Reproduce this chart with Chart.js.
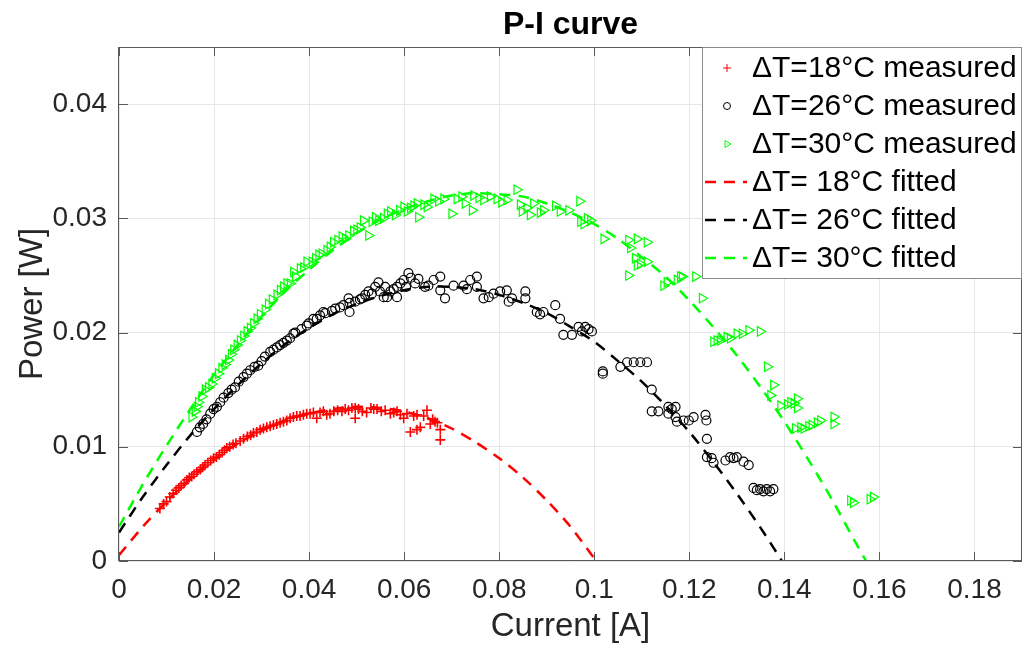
<!DOCTYPE html>
<html>
<head>
<meta charset="utf-8">
<title>P-I curve</title>
<script src="https://cdn.jsdelivr.net/npm/chart.js@4.4.0/dist/chart.umd.min.js"></script>
<style>
  html, body { margin: 0; padding: 0; background: #fff; }
  #wrap { width: 1032px; height: 648px; }
</style>
</head>
<body>
<div id="wrap"><canvas id="piChart" width="1032" height="648"></canvas></div>
<script>
// axis ticks
const xTickValues = [0, 0.02, 0.04, 0.06, 0.08, 0.1, 0.12, 0.14, 0.16, 0.18];
const yTickValues = [0, 0.01, 0.02, 0.03, 0.04];

// measured points [current A, power W]
const measured18 = [
  [0.0086, 0.0046], [0.0094, 0.0050], [0.0100, 0.0052], [0.0107, 0.0056], [0.0114, 0.0059],
  [0.0120, 0.0062], [0.0126, 0.0064], [0.0131, 0.0066], [0.0137, 0.0068], [0.0143, 0.0071],
  [0.0148, 0.0073], [0.0153, 0.0074], [0.0158, 0.0076], [0.0164, 0.0078], [0.0171, 0.0080],
  [0.0176, 0.0082], [0.0181, 0.0084], [0.0187, 0.0086], [0.0193, 0.0088], [0.0199, 0.0090],
  [0.0205, 0.0091], [0.0211, 0.0093], [0.0217, 0.0095], [0.0222, 0.0097], [0.0227, 0.0099],
  [0.0233, 0.0100], [0.0240, 0.0102], [0.0246, 0.0103], [0.0255, 0.0105], [0.0262, 0.0107],
  [0.0270, 0.0109], [0.0277, 0.0110], [0.0283, 0.0112], [0.0290, 0.0113], [0.0297, 0.0115],
  [0.0304, 0.0116], [0.0311, 0.0117], [0.0318, 0.0118], [0.0325, 0.0119], [0.0332, 0.0120],
  [0.0339, 0.0121], [0.0346, 0.0122], [0.0353, 0.0123], [0.0360, 0.0125], [0.0367, 0.0126],
  [0.0374, 0.0127], [0.0381, 0.0127], [0.0388, 0.0128], [0.0395, 0.0129], [0.0402, 0.0129],
  [0.0409, 0.0130], [0.0416, 0.0125], [0.0423, 0.0130], [0.0430, 0.0131], [0.0437, 0.0128],
  [0.0444, 0.0129], [0.0452, 0.0131], [0.0460, 0.0132], [0.0469, 0.0131], [0.0476, 0.0133],
  [0.0483, 0.0132], [0.0490, 0.0134], [0.0497, 0.0134], [0.0497, 0.0125], [0.0504, 0.0133],
  [0.0512, 0.0131], [0.0521, 0.0130], [0.0530, 0.0134], [0.0536, 0.0133], [0.0543, 0.0133],
  [0.0552, 0.0131], [0.0560, 0.0132], [0.0571, 0.0129], [0.0578, 0.0130], [0.0585, 0.0131],
  [0.0592, 0.0128], [0.0599, 0.0125], [0.0606, 0.0129], [0.0613, 0.0113], [0.0620, 0.0127],
  [0.0627, 0.0128], [0.0627, 0.0115], [0.0634, 0.0117], [0.0641, 0.0127], [0.0648, 0.0132],
  [0.0655, 0.0120], [0.0660, 0.0124], [0.0665, 0.0122], [0.0670, 0.0121], [0.0676, 0.0115],
  [0.0676, 0.0106]
];

const measured26 = [
  [0.0164, 0.0113], [0.0170, 0.0117], [0.0177, 0.0120], [0.0184, 0.0124], [0.0192, 0.0129],
  [0.0199, 0.0133], [0.0206, 0.0135], [0.0213, 0.0139], [0.0220, 0.0143], [0.0230, 0.0147],
  [0.0237, 0.0150], [0.0244, 0.0152], [0.0252, 0.0157], [0.0262, 0.0161], [0.0269, 0.0164],
  [0.0276, 0.0167], [0.0285, 0.0170], [0.0293, 0.0171], [0.0300, 0.0175], [0.0307, 0.0179],
  [0.0318, 0.0183], [0.0325, 0.0185], [0.0332, 0.0187], [0.0339, 0.0189], [0.0346, 0.0191],
  [0.0353, 0.0193], [0.0360, 0.0195], [0.0367, 0.0199], [0.0371, 0.0200], [0.0384, 0.0203],
  [0.0395, 0.0206], [0.0399, 0.0208], [0.0409, 0.0212], [0.0416, 0.0212], [0.0423, 0.0215],
  [0.0430, 0.0218], [0.0434, 0.0217], [0.0448, 0.0219], [0.0455, 0.0221], [0.0465, 0.0222],
  [0.0472, 0.0224], [0.0483, 0.0230], [0.0485, 0.0218], [0.0485, 0.0226], [0.0497, 0.0227],
  [0.0507, 0.0229], [0.0511, 0.0230], [0.0518, 0.0233], [0.0525, 0.0236], [0.0532, 0.0234],
  [0.0539, 0.0240], [0.0546, 0.0244], [0.0549, 0.0236], [0.0557, 0.0231], [0.0560, 0.0240],
  [0.0564, 0.0231], [0.0571, 0.0236], [0.0578, 0.0238], [0.0585, 0.0240], [0.0585, 0.0231],
  [0.0592, 0.0243], [0.0599, 0.0246], [0.0604, 0.0240], [0.0609, 0.0252], [0.0614, 0.0248],
  [0.0623, 0.0243], [0.0630, 0.0247], [0.0644, 0.0240], [0.0651, 0.0241], [0.0662, 0.0246],
  [0.0676, 0.0249], [0.0676, 0.0237], [0.0686, 0.0230], [0.0704, 0.0241], [0.0725, 0.0241],
  [0.0732, 0.0238], [0.0739, 0.0246], [0.0753, 0.0249], [0.0753, 0.0240], [0.0767, 0.0230],
  [0.0778, 0.0231], [0.0788, 0.0234], [0.0802, 0.0236], [0.0816, 0.0237], [0.0820, 0.0227],
  [0.0827, 0.0230], [0.0855, 0.0236], [0.0855, 0.0230], [0.0879, 0.0218], [0.0886, 0.0216],
  [0.0893, 0.0218], [0.0918, 0.0224], [0.0928, 0.0212], [0.0935, 0.0198], [0.0953, 0.0198],
  [0.0967, 0.0205], [0.0974, 0.0201], [0.0981, 0.0205], [0.0988, 0.0203], [0.0995, 0.0201],
  [0.1018, 0.0166], [0.1018, 0.0164], [0.1055, 0.0170], [0.1069, 0.0174], [0.1083, 0.0174],
  [0.1097, 0.0174], [0.1111, 0.0174], [0.1121, 0.0150], [0.1121, 0.0131], [0.1135, 0.0131],
  [0.1156, 0.0135], [0.1156, 0.0129], [0.1163, 0.0133], [0.1171, 0.0135], [0.1171, 0.0126],
  [0.1174, 0.0122], [0.1188, 0.0123], [0.1199, 0.0123], [0.1209, 0.0126], [0.1234, 0.0128],
  [0.1236, 0.0123], [0.1237, 0.0107], [0.1237, 0.0091], [0.1247, 0.0090], [0.1251, 0.0086],
  [0.1276, 0.0088], [0.1286, 0.0091], [0.1293, 0.0090], [0.1300, 0.0091], [0.1314, 0.0087],
  [0.1325, 0.0084], [0.1335, 0.0064], [0.1342, 0.0062], [0.1349, 0.0063], [0.1356, 0.0061],
  [0.1363, 0.0063], [0.1370, 0.0061], [0.1377, 0.0063]
];

const measured30 = [
  [0.0153, 0.0126], [0.0160, 0.0131], [0.0164, 0.0135], [0.0167, 0.0139], [0.0174, 0.0144],
  [0.0181, 0.0150], [0.0188, 0.0152], [0.0195, 0.0155], [0.0202, 0.0160], [0.0209, 0.0164],
  [0.0216, 0.0169], [0.0223, 0.0172], [0.0230, 0.0176], [0.0236, 0.0181], [0.0241, 0.0185],
  [0.0248, 0.0189], [0.0255, 0.0193], [0.0262, 0.0197], [0.0269, 0.0201], [0.0276, 0.0204],
  [0.0283, 0.0208], [0.0290, 0.0212], [0.0297, 0.0216], [0.0307, 0.0220], [0.0314, 0.0225],
  [0.0322, 0.0229], [0.0332, 0.0233], [0.0339, 0.0237], [0.0346, 0.0240], [0.0353, 0.0243],
  [0.0360, 0.0243], [0.0367, 0.0253], [0.0371, 0.0249], [0.0381, 0.0256], [0.0388, 0.0257],
  [0.0395, 0.0262], [0.0406, 0.0262], [0.0413, 0.0265], [0.0420, 0.0268], [0.0427, 0.0269],
  [0.0437, 0.0272], [0.0444, 0.0275], [0.0451, 0.0279], [0.0460, 0.0281], [0.0469, 0.0284],
  [0.0476, 0.0282], [0.0483, 0.0285], [0.0493, 0.0289], [0.0500, 0.0290], [0.0507, 0.0292],
  [0.0514, 0.0298], [0.0525, 0.0285], [0.0532, 0.0297], [0.0539, 0.0301], [0.0546, 0.0298],
  [0.0556, 0.0300], [0.0564, 0.0304], [0.0571, 0.0306], [0.0581, 0.0303], [0.0590, 0.0307],
  [0.0599, 0.0310], [0.0606, 0.0306], [0.0613, 0.0309], [0.0620, 0.0311], [0.0627, 0.0313],
  [0.0630, 0.0301], [0.0641, 0.0312], [0.0648, 0.0310], [0.0662, 0.0317], [0.0672, 0.0315],
  [0.0683, 0.0317], [0.0700, 0.0304], [0.0711, 0.0317], [0.0721, 0.0319], [0.0728, 0.0313],
  [0.0743, 0.0307], [0.0746, 0.0320], [0.0757, 0.0318], [0.0767, 0.0316], [0.0781, 0.0319],
  [0.0795, 0.0317], [0.0805, 0.0314], [0.0816, 0.0316], [0.0837, 0.0325], [0.0844, 0.0312],
  [0.0848, 0.0306], [0.0858, 0.0309], [0.0865, 0.0303], [0.0872, 0.0313], [0.0886, 0.0305],
  [0.0893, 0.0307], [0.0918, 0.0311], [0.0928, 0.0306], [0.0946, 0.0307], [0.0969, 0.0315],
  [0.0971, 0.0297], [0.0978, 0.0295], [0.0985, 0.0300], [0.0992, 0.0298], [0.1020, 0.0282],
  [0.1072, 0.0281], [0.1076, 0.0274], [0.1090, 0.0282], [0.1111, 0.0279], [0.1086, 0.0265],
  [0.1072, 0.0250], [0.1090, 0.0259], [0.1097, 0.0260], [0.1111, 0.0262], [0.1146, 0.0241],
  [0.1153, 0.0244], [0.1174, 0.0246], [0.1181, 0.0249], [0.1185, 0.0249], [0.1213, 0.0249],
  [0.1227, 0.0230], [0.1251, 0.0192], [0.1258, 0.0193], [0.1265, 0.0193], [0.1279, 0.0196],
  [0.1286, 0.0195], [0.1300, 0.0199], [0.1311, 0.0199], [0.1325, 0.0202], [0.1349, 0.0201],
  [0.1364, 0.0170], [0.1371, 0.0145], [0.1377, 0.0154], [0.1392, 0.0136], [0.1406, 0.0137],
  [0.1413, 0.0139], [0.1420, 0.0138], [0.1427, 0.0142], [0.1427, 0.0134], [0.1423, 0.0116],
  [0.1434, 0.0117], [0.1441, 0.0116], [0.1451, 0.0118], [0.1458, 0.0119], [0.1469, 0.0121],
  [0.1476, 0.0123], [0.1504, 0.0126], [0.1504, 0.0120], [0.1539, 0.0053], [0.1545, 0.0051],
  [0.1580, 0.0054], [0.1587, 0.0056]
];

// fitted curves [current A, power W]
const fitted18 = [
  [0, 0.0005], [0.005, 0.0030], [0.01, 0.0052], [0.015, 0.0072], [0.02, 0.0089],
  [0.025, 0.0103], [0.03, 0.0114], [0.035, 0.0123], [0.04, 0.0129], [0.045, 0.0133],
  [0.05, 0.0135], [0.055, 0.0134], [0.06, 0.0131], [0.065, 0.0125], [0.07, 0.0116],
  [0.075, 0.0104], [0.08, 0.0090], [0.085, 0.0073], [0.09, 0.0053], [0.095, 0.0030],
  [0.1004, 0]
];

const fitted26 = [
  [0, 0.0025], [0.005, 0.0056], [0.01, 0.0084], [0.015, 0.0110], [0.02, 0.0133],
  [0.025, 0.0154], [0.03, 0.0173], [0.035, 0.0190], [0.04, 0.0204], [0.045, 0.0216],
  [0.05, 0.0225], [0.055, 0.0232], [0.06, 0.0237], [0.065, 0.0240], [0.07, 0.0240],
  [0.075, 0.0238], [0.08, 0.0233], [0.085, 0.0226], [0.09, 0.0217], [0.095, 0.0205],
  [0.1, 0.0192], [0.105, 0.0175], [0.11, 0.0157], [0.115, 0.0136], [0.12, 0.0113],
  [0.125, 0.0087], [0.13, 0.0059], [0.135, 0.0029], [0.1395, 0]
];

const fitted30 = [
  [0, 0.0030], [0.005, 0.0067], [0.01, 0.0101], [0.015, 0.0133], [0.02, 0.0163],
  [0.025, 0.0189], [0.03, 0.0214], [0.035, 0.0236], [0.04, 0.0255], [0.045, 0.0272],
  [0.05, 0.0287], [0.055, 0.0299], [0.06, 0.0308], [0.065, 0.0315], [0.07, 0.0320],
  [0.075, 0.0322], [0.08, 0.0321], [0.085, 0.0319], [0.09, 0.0313], [0.095, 0.0305],
  [0.1, 0.0295], [0.105, 0.0282], [0.11, 0.0266], [0.115, 0.0249], [0.12, 0.0228],
  [0.125, 0.0205], [0.13, 0.0180], [0.135, 0.0152], [0.14, 0.0122], [0.145, 0.0089],
  [0.15, 0.0054], [0.155, 0.0016], [0.1572, 0]
];

const fontFamily = "'Liberation Sans', Arial, sans-serif";
const textColor = "#262626";
const frameColor = "#5a5a5a";
const gridColor = "#e6e6e6";
const dash = [11, 8];

const toXY = (pts) => pts.map((p) => ({ x: p[0], y: p[1] }));

const markerSet = (label, pts, color, style, radius, width) => ({
  label: label,
  data: toXY(pts),
  showLine: false,
  pointStyle: style,
  pointRadius: radius,
  pointHoverRadius: radius,
  pointBorderWidth: width,
  pointRotation: style === "triangle" ? 90 : 0,
  borderColor: color,
  backgroundColor: "rgba(0,0,0,0)",
  order: 2,
});

const fitSet = (label, pts, color) => ({
  label: label,
  data: toXY(pts),
  showLine: true,
  pointRadius: 0,
  borderColor: color,
  borderWidth: 2.5,
  borderDash: dash,
  tension: 0.3,
  fill: false,
  order: 1,
});

// frame with inward tick marks on all four sides
const frameTicks = {
  id: "frameTicks",
  afterDatasetsDraw(chart) {
    const { ctx, chartArea: a, scales } = chart;
    const len = 9;
    ctx.save();
    ctx.strokeStyle = frameColor;
    ctx.lineWidth = 1;
    ctx.beginPath();
    xTickValues.forEach((v) => {
      const px = Math.round(scales.x.getPixelForValue(v)) + 0.5;
      ctx.moveTo(px, a.bottom);
      ctx.lineTo(px, a.bottom - len);
      ctx.moveTo(px, a.top);
      ctx.lineTo(px, a.top + len);
    });
    yTickValues.forEach((v) => {
      const py = Math.round(scales.y.getPixelForValue(v)) + 0.5;
      ctx.moveTo(a.left, py);
      ctx.lineTo(a.left + len, py);
      ctx.moveTo(a.right, py);
      ctx.lineTo(a.right - len, py);
    });
    ctx.stroke();
    ctx.strokeRect(Math.round(a.left) - 0.5, Math.round(a.top) + 0.5,
      Math.round(a.right - a.left), Math.round(a.bottom - a.top) - 1);
    ctx.restore();
  },
};

// boxed legend in the upper right corner of the axes
const boxLegend = {
  id: "boxLegend",
  afterDraw(chart) {
    const { ctx, chartArea: a } = chart;
    const w = 320, h = 232, rowH = 38;
    const left = a.right - w, top = a.top;
    ctx.save();
    ctx.fillStyle = "#fff";
    ctx.fillRect(left, top, w, h);
    ctx.strokeStyle = "#8c8c8c";
    ctx.lineWidth = 1;
    ctx.strokeRect(left + 0.5, top + 0.5, w - 1, h - 1);
    ctx.font = "30px " + fontFamily;
    ctx.textBaseline = "middle";
    chart.data.datasets.forEach((ds, i) => {
      const cy = top + 21 + i * rowH;
      const mx = left + 25;
      ctx.strokeStyle = ds.borderColor;
      if (ds.showLine) {
        ctx.lineWidth = ds.borderWidth;
        ctx.setLineDash(dash);
        ctx.beginPath();
        ctx.moveTo(left + 3, cy);
        ctx.lineTo(left + 45, cy);
        ctx.stroke();
        ctx.setLineDash([]);
      } else {
        ctx.lineWidth = 1;
        ctx.beginPath();
        if (ds.pointStyle === "cross") {
          ctx.moveTo(mx - 4, cy); ctx.lineTo(mx + 4, cy);
          ctx.moveTo(mx, cy - 4); ctx.lineTo(mx, cy + 4);
        } else if (ds.pointStyle === "circle") {
          ctx.arc(mx, cy, 3.5, 0, Math.PI * 2);
        } else {
          const r = 4;
          ctx.moveTo(mx + r, cy);
          ctx.lineTo(mx - r / 2, cy - r * 0.866);
          ctx.lineTo(mx - r / 2, cy + r * 0.866);
          ctx.closePath();
        }
        ctx.stroke();
      }
      ctx.fillStyle = "#000";
      ctx.textAlign = "left";
      ctx.fillText(ds.label, left + 50, cy + 1);
    });
    ctx.restore();
  },
};

const fmt = (v) => (v === 0 ? "0" : String(+v.toFixed(2)));

const config = {
  type: "scatter",
  data: {
    datasets: [
      markerSet("\u0394T=18\u00B0C measured", measured18, "#ff0000", "cross", 5, 1.6),
      markerSet("\u0394T=26\u00B0C measured", measured26, "#000000", "circle", 4.5, 1.2),
      markerSet("\u0394T=30\u00B0C measured", measured30, "#00ff00", "triangle", 5.5, 1.2),
      fitSet("\u0394T= 18\u00B0C fitted", fitted18, "#ff0000"),
      fitSet("\u0394T= 26\u00B0C fitted", fitted26, "#000000"),
      fitSet("\u0394T= 30\u00B0C fitted", fitted30, "#00ff00"),
    ],
  },
  options: {
    responsive: false,
    animation: false,
    devicePixelRatio: 1,
    layout: { padding: { left: 0, right: 10, top: 0, bottom: 0 } },
    plugins: {
      legend: { display: false },
      tooltip: { enabled: false },
      title: {
        display: true,
        fullSize: false,
        text: "P-I curve",
        color: "#000",
        font: { family: fontFamily, size: 32, weight: "bold" },
        padding: { top: 6, bottom: 2.6 },
      },
    },
    scales: {
      x: {
        type: "linear",
        min: 0,
        max: 0.19,
        afterBuildTicks: (scale) => {
          scale.ticks = xTickValues.map((v) => ({ value: v }));
        },
        afterFit: (scale) => {
          scale.height = 87;
        },
        grid: { color: gridColor, drawTicks: false },
        border: { display: false },
        ticks: {
          padding: 12,
          color: textColor,
          font: { family: fontFamily, size: 28 },
          maxRotation: 0,
          autoSkip: false,
          callback: (v) => fmt(v),
        },
        title: {
          display: true,
          text: "Current [A]",
          color: textColor,
          font: { family: fontFamily, size: 33 },
          padding: { top: 0, bottom: 1 },
        },
      },
      y: {
        type: "linear",
        min: 0,
        max: 0.045,
        afterBuildTicks: (scale) => {
          scale.ticks = yTickValues.map((v) => ({ value: v }));
        },
        afterFit: (scale) => {
          scale.width = 119;
        },
        grid: { color: gridColor, drawTicks: false },
        border: { display: false },
        ticks: {
          padding: 12,
          color: textColor,
          font: { family: fontFamily, size: 28 },
          autoSkip: false,
          callback: (v) => fmt(v),
        },
        title: {
          display: true,
          text: "Power [W]",
          color: textColor,
          font: { family: fontFamily, size: 33 },
          padding: { top: 13, bottom: 0 },
        },
      },
    },
  },
  plugins: [frameTicks, boxLegend],
};

const piChart = new Chart(document.getElementById("piChart"), config);
</script>
</body>
</html>
